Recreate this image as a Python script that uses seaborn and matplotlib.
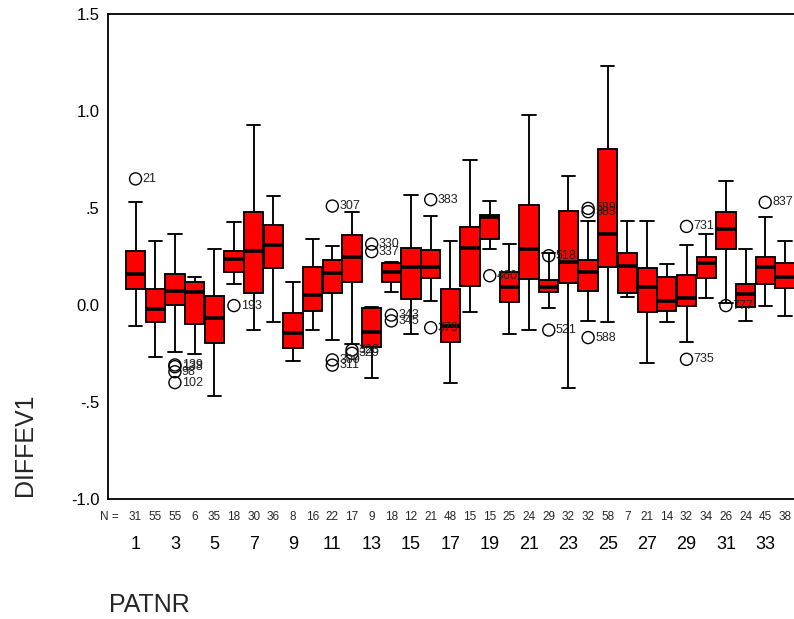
import numpy as np
import pandas as pd
import matplotlib
matplotlib.use("Agg")
import matplotlib.pyplot as plt
import seaborn as sns
from matplotlib.transforms import blended_transform_factory

# ---------------- data ----------------
patients = list(range(1, 35))
counts = [31, 55, 55, 6, 35, 18, 30, 36, 8, 16, 22, 17, 9, 18, 12, 21, 48,
          15, 15, 25, 24, 29, 32, 32, 58, 7, 21, 14, 32, 34, 26, 24, 45, 38]
whisk_low = [-0.11, -0.27, -0.24, -0.25, -0.47, 0.11, -0.13, -0.088, -0.287, -0.13,
             -0.18, -0.20, -0.378, 0.069, -0.15, 0.02, -0.40, -0.038, 0.289, -0.15,
             -0.13, -0.017, -0.43, -0.082, -0.088, 0.043, -0.30, -0.089, -0.189, 0.034,
             0.01, -0.082, -0.003, -0.058]
q1 = [0.082, -0.088, 0.0, -0.10, -0.194, 0.168, 0.064, 0.19, -0.22, -0.03,
      0.064, 0.12, -0.215, 0.12, 0.033, 0.141, -0.19, 0.098, 0.34, 0.014,
      0.132, 0.065, 0.112, 0.074, 0.198, 0.064, -0.038, -0.031, -0.003, 0.141,
      0.289, -0.009, 0.11, 0.089]
median = [0.158, -0.02, 0.072, 0.069, -0.069, 0.235, 0.28, 0.31, -0.143, 0.05,
          0.167, 0.25, -0.14, 0.168, 0.194, 0.194, -0.107, 0.292, 0.452, 0.093,
          0.287, 0.093, 0.223, 0.172, 0.364, 0.203, 0.094, 0.022, 0.034, 0.215,
          0.393, 0.057, 0.194, 0.144]
q3 = [0.28, 0.08, 0.16, 0.118, 0.045, 0.28, 0.48, 0.41, -0.04, 0.194,
      0.23, 0.36, -0.017, 0.216, 0.296, 0.282, 0.082, 0.40, 0.464, 0.168,
      0.515, 0.129, 0.485, 0.232, 0.802, 0.268, 0.189, 0.144, 0.153, 0.246,
      0.481, 0.11, 0.246, 0.216]
whisk_high = [0.53, 0.33, 0.366, 0.146, 0.29, 0.43, 0.93, 0.56, 0.12, 0.34,
              0.304, 0.48, -0.012, 0.223, 0.567, 0.459, 0.33, 0.75, 0.536, 0.316,
              0.98, 0.266, 0.665, 0.431, 1.234, 0.431, 0.431, 0.21, 0.309, 0.366,
              0.639, 0.287, 0.452, 0.33]

outlier_patient = [1, 3, 3, 3, 3, 6, 11, 11, 11, 12, 12, 13, 13, 14, 14, 16, 16,
                   19, 22, 22, 24, 24, 24, 29, 29, 31, 33]
outlier_value = [0.65, -0.309, -0.318, -0.344, -0.40, -0.003, 0.51, -0.283, -0.31,
                 -0.232, -0.249, 0.314, 0.275, -0.052, -0.082, 0.543, -0.117,
                 0.151, 0.254, -0.129, 0.498, 0.481, -0.168, 0.405, -0.28, -0.003, 0.529]
outlier_label = ["21", "139", "138", "98", "102", "193", "307", "309", "311",
                 "323", "329", "330", "337", "343", "345", "383", "379",
                 "460", "518", "521", "589", "583", "588", "731", "735", "777", "837"]

ytick_vals = [-1.0, -0.5, 0.0, 0.5, 1.0, 1.5]
ytick_labels = ["-1.0", "-.5", "0.0", ".5", "1.0", "1.5"]

# ---------------- build long table from five-number summaries ----------------
rows = []
for i, p in enumerate(patients):
    for v in (whisk_low[i], q1[i], median[i], q3[i], whisk_high[i]):
        rows.append({"PATNR": str(p), "DIFFEV1": v})
df = pd.DataFrame(rows)
order = [str(p) for p in patients]

sns.set_style("white")
plt.rcParams["font.family"] = ["Liberation Sans", "DejaVu Sans"]

W, H = 794, 619
fig = plt.figure(figsize=(W / 100, H / 100), dpi=100)
ax = fig.add_axes([108 / W, 1 - 499 / H, (W - 108) / W + 0.02, 485 / H])

lw = 1.35
sns.boxplot(data=df, x="PATNR", y="DIFFEV1", order=order, ax=ax,
            color="#ff0000", saturation=1, width=0.98, whis=np.inf,
            linecolor="black", linewidth=lw,
            medianprops=dict(color="black", linewidth=2.6),
            capwidths=0.68, showfliers=False)

# outliers
opos = [p - 1 for p in outlier_patient]
sns.scatterplot(x=opos, y=outlier_value, ax=ax, marker="o", s=75,
                facecolors="none", edgecolor="black", linewidth=1.0,
                legend=False, zorder=5)
for x, y, t in zip(opos, outlier_value, outlier_label):
    ax.annotate(t, (x, y), xytext=(5, 0), textcoords="offset points",
                va="center", ha="left", fontsize=9, color="#222222", zorder=6)

# axes styling
ax.set_xlim(-1.40, 34.27)
ax.set_ylim(-1.0, 1.5)
ax.set_yticks(ytick_vals)
ax.set_yticklabels(ytick_labels, fontsize=12)
odd = [p for p in patients if p % 2 == 1]
ax.set_xticks([p - 1 for p in odd])
ax.set_xticklabels([str(p) for p in odd], fontsize=13)
ax.tick_params(axis="y", direction="out", length=4, width=2.5, pad=2, colors="black")
ax.tick_params(axis="x", direction="out", length=2.5, width=2.5, pad=24, colors="black")
for s in ("left", "top", "bottom"):
    ax.spines[s].set_visible(True)
    ax.spines[s].set_linewidth(1.3)
    ax.spines[s].set_color("black")
ax.spines["right"].set_visible(False)
ax.set_xlabel("")
ax.set_ylabel("")

# N row
tr = blended_transform_factory(ax.transData, ax.transAxes)
yN = (499 - 520) / 485
for i, n in enumerate(counts):
    ax.text(i, yN, str(n), transform=tr, ha="center", va="baseline", fontsize=8.5)
fig.text(119 / W, 1 - 520 / H, "N =", ha="right", va="baseline", fontsize=8.5)

# axis titles
fig.text(25 / W, 1 - 496 / H, "DIFFEV1", rotation=90, ha="center", va="bottom", fontsize=18)
fig.text(109 / W, 1 - 612 / H, "PATNR", ha="left", va="baseline", fontsize=18)

fig.savefig("out.png", dpi=100)
